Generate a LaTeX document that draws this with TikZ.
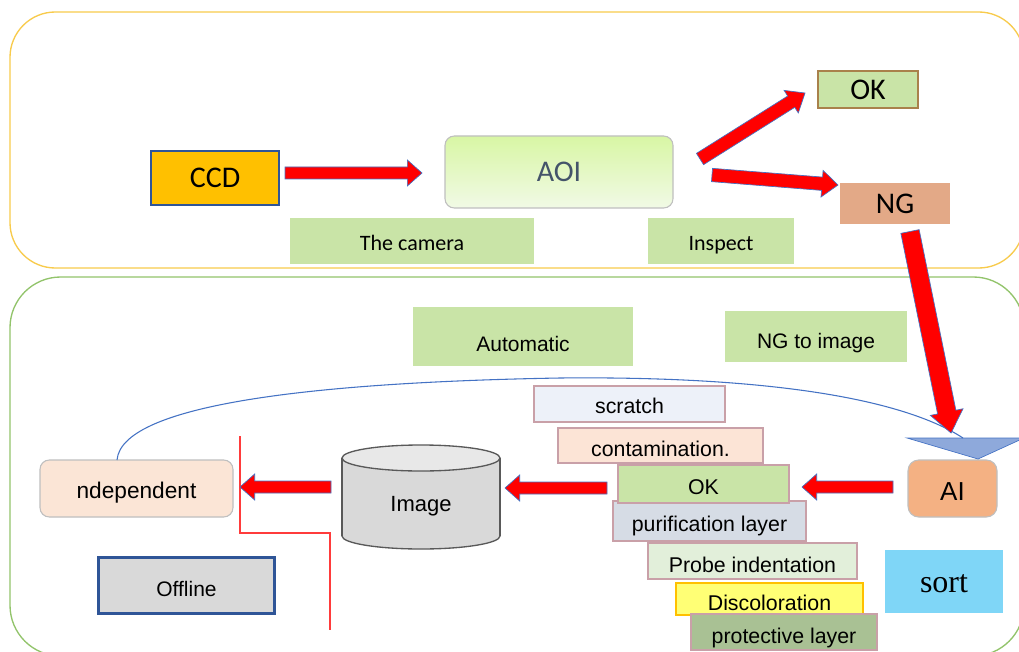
\documentclass[tikz,border=0pt]{standalone}
\usepackage{fontspec}
\setmainfont{Liberation Sans}
\newfontfamily\calibri{Carlito}
\newfontfamily\serifface{Liberation Serif}
\usetikzlibrary{calc}

\definecolor{frameyellow}{HTML}{F8CB4C}
\definecolor{framegreen}{HTML}{92C46B}
\definecolor{lightgreen}{HTML}{C9E4A7}
\definecolor{ccdfill}{HTML}{FFC000}
\definecolor{darkblue}{HTML}{2F5597}
\definecolor{ngfill}{HTML}{E3A987}
\definecolor{okborder}{HTML}{A9814B}
\definecolor{aoitext}{HTML}{44546A}
\definecolor{aoitop}{HTML}{D8F6A4}
\definecolor{aoibottom}{HTML}{F1FAE6}
\definecolor{softgray}{HTML}{BFBFBF}
\definecolor{indepfill}{HTML}{FBE5D6}
\definecolor{aifill}{HTML}{F4B183}
\definecolor{cylbody}{HTML}{D9D9D9}
\definecolor{cyltop}{HTML}{E8E8E8}
\definecolor{cylline}{HTML}{595959}
\definecolor{pinkline}{HTML}{C9A0A8}
\definecolor{arrowblue}{HTML}{4472C4}
\definecolor{trifill}{HTML}{8EA9DB}
\definecolor{sortfill}{HTML}{7FD6F7}
\definecolor{cat1}{HTML}{EDF1F9}
\definecolor{cat2}{HTML}{FCE4D6}
\definecolor{cat4}{HTML}{D6DCE5}
\definecolor{cat5}{HTML}{E2EFDA}
\definecolor{cat6}{HTML}{FFFF75}
\definecolor{cat7}{HTML}{A9C194}
\definecolor{splitred}{HTML}{FF3B3B}

\tikzset{
  box/.style={inner sep=0pt, outer sep=0pt, align=center},
  tx/.style={text height=#1, text depth=0pt},
  topfont/.style={font=\calibri\fontsize{22.5}{26}\selectfont},
  labfont/.style={font=\calibri\fontsize{16.5}{20}\selectfont},
  catfont/.style={font=\fontsize{16}{19}\selectfont},
  notebox/.style={box, fill=lightgreen, labfont},
  catbox/.style={box, draw=pinkline, line width=1pt, catfont},
  fatarrow/.style={fill=red, draw=arrowblue, line width=0.5pt, line join=miter},
}

% block arrow from #1 to #2: half shaft width #3, half head width #4, head length #5
\newcommand\blockarrow[5]{%
  \draw[fatarrow] let \p1=(#1), \p2=(#2),
      \n1={atan2(\y2-\y1,\x2-\x1)}, \n2={veclen(\x2-\x1,\y2-\y1)} in
    ($(\p1)+(\n1+90:#3)$)
    -- ($(\p1)+(\n1:\n2-#5)+(\n1+90:#3)$)
    -- ($(\p1)+(\n1:\n2-#5)+(\n1+90:#4)$)
    -- (\p2)
    -- ($(\p1)+(\n1:\n2-#5)+(\n1-90:#4)$)
    -- ($(\p1)+(\n1:\n2-#5)+(\n1-90:#3)$)
    -- ($(\p1)+(\n1-90:#3)$) -- cycle;}

\begin{document}
\begin{tikzpicture}[x=0.75pt, y=-0.75pt]
\useasboundingbox (0,0) rectangle (1019,652);
\clip (0,0) rectangle (1019,652);
\fill[white] (0,0) rectangle (1019,652);

% the two stage frames
\draw[frameyellow, line width=1pt, rounded corners=34pt] (10,12) rectangle (1024,268);
\draw[framegreen, line width=1pt, rounded corners=38pt] (10,277) rectangle (1024,656);

% ---- inspection stage ----
\node[box, fill=ccdfill, draw=darkblue, line width=1.5pt, minimum width=128pt*0.75, minimum height=54pt*0.75, topfont] (ccd) at (215,178) {CCD};
\node[box, draw=softgray, line width=0.8pt, rounded corners=7pt, top color=aoitop, bottom color=aoibottom,
      minimum width=228pt*0.75, minimum height=72pt*0.75, topfont, text=aoitext] (aoi) at (559,172) {AOI};
\node[notebox, tx=13.6pt, minimum width=244pt*0.75, minimum height=46pt*0.75] (cam) at (412,241) {The camera};
\node[notebox, tx=13.6pt, minimum width=146pt*0.75, minimum height=46pt*0.75] (insp) at (721,241) {Inspect};
\node[box, fill=lightgreen, draw=okborder, line width=1pt, minimum width=100pt*0.75, minimum height=37pt*0.75, topfont] (okt) at (868,89.5) {OK};
\node[box, fill=ngfill, minimum width=110pt*0.75, minimum height=41pt*0.75, topfont] (ng) at (895,203.5) {NG};

% ---- sorting stage ----
\node[notebox, font=\fontsize{15.75}{19}\selectfont, tx=21.8pt, minimum width=220pt*0.75, minimum height=59pt*0.75] (auto) at (523,336.5) {Automatic};
\node[notebox, font=\fontsize{15.75}{19}\selectfont, tx=17.3pt, minimum width=182pt*0.75, minimum height=51pt*0.75] (ngimg) at (816,336.5) {NG to image};

\node[box, fill=indepfill, draw=softgray, line width=0.8pt, rounded corners=7pt, minimum width=193pt*0.75, minimum height=57pt*0.75, font=\fontsize{17}{20}\selectfont, tx=15.2pt] (indep) at (136.5,488.5) {ndependent};
\node[box, fill=cylbody, draw=darkblue, line width=1.8pt, minimum width=176pt*0.75, minimum height=56pt*0.75, font=\fontsize{15.75}{19}\selectfont, tx=16.5pt] (offl) at (186.5,585.5) {Offline};

% image store drawn as a cylinder
\node[box, minimum width=158pt*0.75, minimum height=106pt*0.75] (img) at (421,497) {};
\begin{scope}[shift={(img.center)}]
  \fill[cylbody] (-79,-39) rectangle (79,39);
  \fill[cylbody] (0,39) ellipse [x radius=79, y radius=13];
  \begin{scope}
    \clip (-82,39) rectangle (82,56);
    \draw[cylline, line width=1pt] (0,39) ellipse [x radius=79, y radius=13];
  \end{scope}
  \draw[cylline, line width=1pt] (-79,-39) -- (-79,39) (79,-39) -- (79,39);
  \filldraw[fill=cyltop, draw=cylline, line width=1pt] (0,-39) ellipse [x radius=79, y radius=13];
\end{scope}
\node[font=\fontsize{16.5}{20}\selectfont] (imgtext) at (421,506) {Image};

\node[box, fill=aifill, draw=softgray, line width=0.8pt, rounded corners=8pt, minimum width=89pt*0.75, minimum height=57pt*0.75, font=\fontsize{19.5}{23}\selectfont, tx=17.8pt] (ai) at (952.5,488.5) {AI};

% defect categories
\node[catbox, fill=cat1, tx=14.5pt, minimum width=191pt*0.75, minimum height=36pt*0.75] (scratch) at (629.5,404) {scratch};
\node[catbox, fill=cat2, tx=16pt, minimum width=205pt*0.75, minimum height=35pt*0.75] (contam) at (660.5,445.5) {contamination.};
\node[catbox, fill=cat4, tx=16pt, minimum width=193pt*0.75, minimum height=40pt*0.75] (purif) at (709.5,521) {purification layer};
\node[catbox, fill=lightgreen, tx=15.3pt, minimum width=171pt*0.75, minimum height=38pt*0.75] (okb) at (703.5,484) {OK};
\node[catbox, fill=cat5, tx=16.7pt, minimum width=209pt*0.75, minimum height=36pt*0.75] (probe) at (752.5,561) {Probe indentation};
\node[catbox, fill=cat6, draw=ccdfill, tx=16.7pt, minimum width=187pt*0.75, minimum height=32pt*0.75] (disc) at (769.5,599) {Discoloration};
\node[catbox, fill=cat7, tx=16.7pt, minimum width=186pt*0.75, minimum height=36pt*0.75] (prot) at (784,632) {protective layer};
\node[box, fill=sortfill, minimum width=118pt*0.75, minimum height=63pt*0.75, font=\serifface\fontsize{24}{28}\selectfont, tx=17.2pt] (sort) at (944,581.5) {sort};

% marker above the AI node
\filldraw[fill=trifill, draw=arrowblue, line width=0.5pt] (907,438) -- (1024,438) -- (978,459) -- cycle;

% feedback line from AI back to the independent check
\coordinate (fbend) at (963,438);
\draw[arrowblue, line width=0.8pt] ($(indep.north)+(-19.5,0)$) .. controls (122,402) and (330,382) .. (560,378)
  .. controls (760,376) and (900,397) .. (fbend);

% online / offline split line
\draw[splitred, line width=0.8pt] (240,436) -- (240,533) -- (330,533) -- (330,630);

% flow arrows
\blockarrow{$(ccd.east)+(6,-5)$}{$(aoi.west)+(-23,1)$}{4.5pt}{9.75pt}{11pt}
\blockarrow{$(aoi.east)+(27,-13)$}{$(okt.west)+(-13,3.5)$}{5pt}{10pt}{12pt}
\blockarrow{$(aoi.east)+(39,3)$}{$(ng.west)+(-2,-18.5)$}{5pt}{10pt}{12pt}
\blockarrow{$(ng.south)+(15,7.5)$}{$(ai.north)+(-1.5,-27)$}{7pt}{12.5pt}{16pt}
\blockarrow{$(ai.west)+(-15,-1.5)$}{$(okb.east)+(13,3)$}{4.5pt}{9.75pt}{11pt}
\blockarrow{$(okb.west)+(-11,4)$}{$(img.east)+(5,-9)$}{4.5pt}{9.75pt}{11pt}
\blockarrow{$(img.west)+(-11,-10)$}{$(indep.east)+(7,-1.5)$}{4.5pt}{9.75pt}{11pt}
\end{tikzpicture}
\end{document}
